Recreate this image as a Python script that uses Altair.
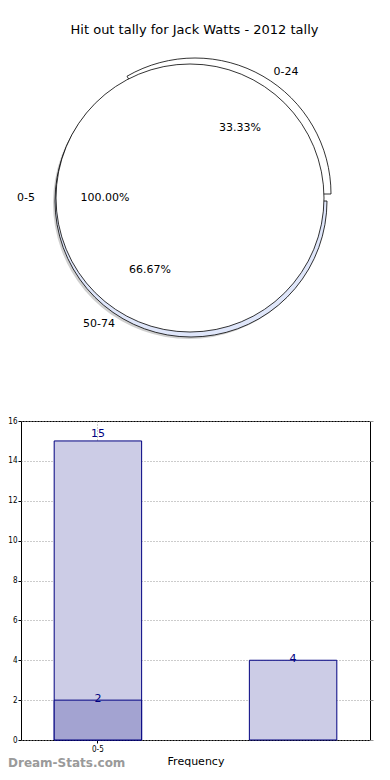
import math
import altair as alt
import pandas as pd

# ---------------- data ----------------
title_text = "Hit out tally for Jack Watts - 2012 tally"
watermark_text = "Dream-Stats.com"

outer_cats = ["0-5"]
outer_vals = [15]
inner_cats = ["0-24", "50-74"]
inner_vals = [2, 4]

bar_cats = ["0-5", "50-74"]
bar_vals = [15, 4]
overlay_cats = ["0-5"]
overlay_vals = [2]

x_title = "Frequency"
y_ticks = [0, 2, 4, 6, 8, 10, 12, 14, 16]

FONT = "DejaVu Sans"
TICK_FONT = "DejaVu Sans Condensed, Liberation Sans Narrow, DejaVu Sans"
TH_RANGE = [math.pi / 2, math.pi / 2 - 2 * math.pi]

outer_df = pd.DataFrame({"cat": outer_cats, "v": outer_vals, "ord": list(range(len(outer_cats)))})
inner_df = pd.DataFrame({"cat": inner_cats, "v": inner_vals, "ord": list(range(len(inner_cats)))})
bar_df = pd.DataFrame({"cat": bar_cats, "v": bar_vals})
ov_df = pd.DataFrame({"cat": overlay_cats, "v": overlay_vals})

PAD_L = 13
VIEW_W = 349


def theta():
    return alt.Theta("v:Q", stack=True, scale=alt.Scale(range=TH_RANGE))


def base(df):
    return (
        alt.Chart(df)
        .transform_joinaggregate(total="sum(v)")
        .transform_calculate(pct="format(datum.v / datum.total * 100, '.2f') + '%'")
    )


# pie centres (view coordinates; view origin is page x = 8 + PAD_L)
OX = 8 + PAD_L
MC = (190 - OX, -223)   # main circle
C24 = (195 - OX, -227)  # exploded 0-24 wedge
C50 = (191 - OX, -220)  # exploded 50-74 wedge
R_MAIN = 134
R_W = 136


def wedge(cat, c, fill, stroke=True, opacity=1.0):
    kw = dict(outerRadius=R_W, fill=fill)
    if stroke:
        kw.update(stroke="black", strokeWidth=0.8)
    return (
        base(inner_df)
        .transform_calculate(show=f"datum.cat === '{cat}' ? {opacity} : 0")
        .mark_arc(**kw)
        .encode(
            theta=theta(),
            x=alt.value(c[0]),
            y=alt.value(c[1]),
            fillOpacity=alt.FillOpacity("show:Q", scale=None),
            strokeOpacity=alt.StrokeOpacity("show:Q", scale=None),
            order=alt.Order("ord:Q"),
        )
    )


def label(df, cat, expr, c, r, align, dx=0, dy=0):
    return (
        base(df)
        .transform_calculate(lbl=f"datum.cat === '{cat}' ? {expr} : ''")
        .mark_text(radius=r, align=align, baseline="middle", dx=dx, dy=dy,
                   fontSize=11, font=FONT, color="black")
        .encode(
            theta=theta(),
            x=alt.value(c[0]),
            y=alt.value(c[1]),
            text="lbl:N",
            order=alt.Order("ord:Q"),
        )
    )


shadow = wedge("50-74", (C50[0] - 2, C50[1] + 2), "#777777", stroke=False, opacity=0.35)
w50 = wedge("50-74", C50, "#dfe6fa")
w24 = wedge("0-24", C24, "white")
main = (
    alt.Chart(outer_df)
    .mark_arc(outerRadius=R_MAIN, fill="white", stroke="black", strokeWidth=0.8)
    .encode(theta=theta(), x=alt.value(MC[0]), y=alt.value(MC[1]), order=alt.Order("ord:Q"))
)

lab_05 = label(outer_df, "0-5", "datum.cat", MC, 155, "right")
pct_05 = label(outer_df, "0-5", "datum.pct", MC, 85, "center")
lab_24 = label(inner_df, "0-24", "datum.cat", C24, 141, "left", dx=8)
pct_24 = label(inner_df, "0-24", "datum.pct", C24, 76, "center", dx=7)
lab_50 = label(inner_df, "50-74", "datum.cat", C50, 142, "right", dx=-5)
pct_50 = label(inner_df, "50-74", "datum.pct", C50, 80, "center", dx=-1)

title = (
    alt.Chart(pd.DataFrame({"t": [title_text]}))
    .mark_text(fontSize=13, font=FONT, color="black", baseline="middle", align="center")
    .encode(text="t:N", x=alt.value(194.5 - OX), y=alt.value(-391))
)
watermark = (
    alt.Chart(pd.DataFrame({"t": [watermark_text]}))
    .mark_text(fontSize=12, font=FONT, fontWeight="bold", color="#9a9a9a",
               baseline="alphabetic", align="left")
    .encode(text="t:N", x=alt.value(-PAD_L), y=alt.value(346))
)

# ---------------- bars ----------------
x_enc = alt.X(
    "cat:N",
    sort=bar_cats,
    scale=alt.Scale(domain=bar_cats, paddingInner=0.552, paddingOuter=0.17),
    axis=alt.Axis(values=["0-5"], title=x_title, labelAngle=0, labelFontSize=8,
                  labelFont=TICK_FONT, labelColor="black", labelPadding=2, tickSize=3,
                  tickColor="black", domain=False, grid=True, gridDash=[1, 2],
                  gridColor="#999999", bandPosition=0.5, titleFont=FONT,
                  titleFontSize=11, titleFontWeight="normal", titleColor="black",
                  titlePadding=2),
)
y_scale = alt.Scale(domain=[0, 16], nice=False)
y_left = alt.Y("v:Q", scale=y_scale,
               axis=alt.Axis(values=y_ticks, title=None, grid=True, gridDash=[1, 2],
                             gridColor="#999999", labelFontSize=8, labelFont=TICK_FONT,
                             labelColor="black", tickSize=3, tickColor="black",
                             labelPadding=1, domain=False))
y_right = alt.Y("v:Q", scale=y_scale,
                axis=alt.Axis(orient="right", values=y_ticks, title=None, labels=False,
                              ticks=True, tickColor="#999999", tickSize=3,
                              domain=False, grid=False))
y_none = alt.Y("v:Q", scale=y_scale, axis=None)

bars = alt.Chart(bar_df).mark_bar(fill="#ccccE6", stroke="#000080", strokeWidth=1).encode(
    x=x_enc, y=y_left)
ov = alt.Chart(ov_df).mark_bar(fill="#a3a3d1", stroke="#000080", strokeWidth=1).encode(
    x=x_enc, y=y_right)
txt_style = dict(fontSize=11, font=FONT, color="#000080", align="center", baseline="alphabetic")
t15 = alt.Chart(bar_df).transform_filter(alt.datum.cat == "0-5").mark_text(dy=-4, **txt_style).encode(
    x=x_enc, y=y_none, text="v:Q")
t4 = alt.Chart(bar_df).transform_filter(alt.datum.cat == "50-74").mark_text(dy=2, **txt_style).encode(
    x=x_enc, y=y_none, text="v:Q")
t2 = alt.Chart(ov_df).mark_text(dy=2, **txt_style).encode(x=x_enc, y=y_none, text="v:Q")

chart = (
    alt.layer(shadow, w50, w24, main, lab_05, pct_05, lab_24, pct_24, lab_50, pct_50,
              title, bars, ov, t15, t4, t2, watermark)
    .resolve_scale(theta="independent")
    .resolve_axis(y="independent")
    .properties(
        width=VIEW_W,
        height=319,
        autosize=alt.AutoSizeParams(type="none"),
        padding={"left": PAD_L, "top": 413, "right": 374 - PAD_L - VIEW_W, "bottom": 32},
    )
    .configure_view(stroke="black", strokeWidth=1)
)

chart.save("out.html", embed_options={"renderer": "svg", "actions": False})
